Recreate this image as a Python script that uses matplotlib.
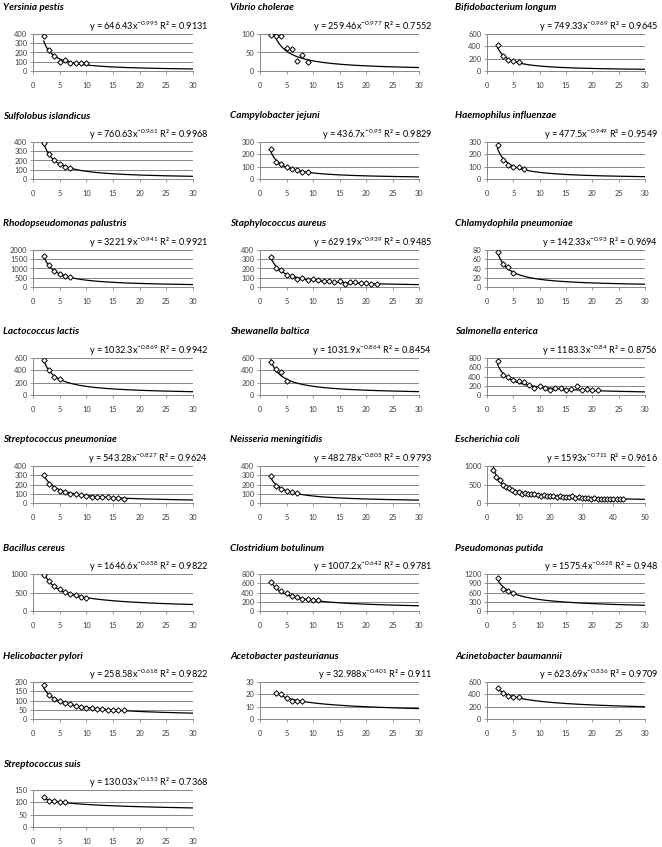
import matplotlib
matplotlib.use("Agg")
import matplotlib.pyplot as plt
import numpy as np

plt.rcParams['font.family'] = ['Lato', 'DejaVu Sans']
plt.rcParams['mathtext.fontset'] = 'custom'
plt.rcParams['mathtext.rm'] = 'Lato'
plt.rcParams['mathtext.it'] = 'Lato:italic'

species = ['Yersinia pestis', 'Vibrio cholerae', 'Bifidobacterium longum',
           'Sulfolobus islandicus', 'Campylobacter jejuni', 'Haemophilus influenzae',
           'Rhodopseudomonas palustris', 'Staphylococcus aureus', 'Chlamydophila pneumoniae',
           'Lactococcus lactis', 'Shewanella baltica', 'Salmonella enterica',
           'Streptococcus pneumoniae', 'Neisseria meningitidis', 'Escherichia coli',
           'Bacillus cereus', 'Clostridium botulinum', 'Pseudomonas putida',
           'Helicobacter pylori', 'Acetobacter pasteurianus', 'Acinetobacter baumannii',
           'Streptococcus suis']

coef = ['646.43', '259.46', '749.33', '760.63', '436.7', '477.5', '3221.9', '629.19',
        '142.33', '1032.3', '1031.9', '1183.3', '543.28', '482.78', '1593', '1646.6',
        '1007.2', '1575.4', '258.58', '32.988', '623.69', '130.03']
expo = ['-0.995', '-0.977', '-0.969', '-0.961', '-0.95', '-0.949', '-0.941', '-0.939',
        '-0.93', '-0.869', '-0.864', '-0.84', '-0.827', '-0.805', '-0.711', '-0.658',
        '-0.642', '-0.628', '-0.618', '-0.401', '-0.336', '-0.153']
r2 = ['0.9131', '0.7552', '0.9645', '0.9968', '0.9829', '0.9549', '0.9921', '0.9485',
      '0.9694', '0.9942', '0.8454', '0.8756', '0.9624', '0.9793', '0.9616', '0.9822',
      '0.9781', '0.948', '0.9822', '0.911', '0.9709', '0.7368']

x_start = [2, 2, 2, 2, 2, 2, 2, 2, 2, 2, 2, 2, 2, 2, 2, 2, 2, 2, 2, 3, 2, 2]

counts = [
    [380, 225, 160, 95, 115, 90, 85, 85, 85],
    [97, 94, 95, 62, 60, 28, 42, 23],
    [420, 240, 185, 165, 150],
    [385, 265, 205, 160, 135, 120],
    [240, 135, 125, 95, 80, 70, 60, 58],
    [275, 155, 115, 100, 95, 85],
    [1700, 1200, 850, 680, 600, 540],
    [320, 210, 180, 135, 120, 90, 95, 80, 85, 75, 70, 70, 55, 60, 35, 55, 50, 40, 40, 35, 30],
    [75, 50, 43, 30],
    [570, 400, 300, 260],
    [540, 420, 380, 225],
    [730, 440, 380, 330, 300, 280, 220, 150, 190, 150, 110, 150, 150, 110, 140, 200, 100, 130, 100, 100],
    [300, 210, 160, 130, 120, 100, 100, 90, 80, 70, 70, 60, 60, 55, 55, 45],
    [290, 185, 150, 130, 115, 110],
    [900, 700, 620, 500, 420, 400, 350, 300, 300, 250, 260, 240, 250, 230, 210, 200, 220,
     190, 200, 180, 170, 190, 160, 170, 150, 180, 140, 150, 130, 140, 130, 120, 140, 120,
     110, 120, 100, 110, 100, 110, 100, 100],
    [980, 820, 680, 600, 520, 450, 420, 380, 360],
    [620, 520, 440, 380, 320, 300, 270, 250, 240, 230],
    [1080, 700, 640, 580],
    [185, 130, 110, 95, 85, 80, 70, 65, 62, 58, 55, 53, 50, 50, 48, 47],
    [21, 20, 17, 15, 15, 15],
    [500, 420, 380, 360, 350],
    [120, 105, 105, 103, 103],
]

y_max = [400, 100, 600, 400, 300, 300, 2000, 400, 80, 600, 600, 800, 400, 400, 1000,
         1000, 800, 1200, 200, 30, 600, 150]
y_step = [100, 50, 200, 100, 100, 100, 500, 100, 20, 200, 200, 200, 100, 100, 500,
          500, 200, 300, 50, 10, 200, 50]
x_max = [30] * 14 + [50] + [30] * 7

W, H = 662, 847
fig = plt.figure(figsize=(W / 100, H / 100), dpi=100)
fig.patch.set_facecolor('white')

col_left = [33, 260, 487]
col_right = [193, 419, 645]
title_x = [3, 230, 455]
eq_right = [208, 432, 658]
pitch = 108
grid_col = '#878787'
txt_col = '#404040'

for i, name in enumerate(species):
    r, c = divmod(i, 3)
    top = r * pitch
    pt, pb = top + 34, top + 71
    ax = fig.add_axes([col_left[c] / W, 1 - pb / H, (col_right[c] - col_left[c]) / W, (pb - pt) / H])

    y = np.array(counts[i], dtype=float)
    x = np.arange(x_start[i], x_start[i] + len(y))
    a, b = float(coef[i]), float(expo[i])
    xf = np.linspace(x[0], x_max[i], 300)
    ax.plot(xf, a * xf ** b, color='black', lw=0.9, zorder=3)
    ax.plot(x, y, ls='none', marker='D', ms=2.8, mfc='white', mec='black', mew=0.7, zorder=4)

    ax.set_xlim(0, x_max[i])
    ax.set_ylim(0, y_max[i])
    ax.set_xticks(np.arange(0, x_max[i] + 1, 10 if x_max[i] == 50 else 5))
    ax.set_yticks(np.arange(0, y_max[i] + 1, y_step[i]))
    ax.yaxis.grid(True, color=grid_col, lw=0.7)
    ax.set_axisbelow(True)
    for s in ['top', 'right']:
        ax.spines[s].set_visible(False)
    for s in ['left', 'bottom']:
        ax.spines[s].set_color(grid_col)
        ax.spines[s].set_linewidth(0.7)
    ax.tick_params(axis='both', labelsize=5.4, colors=grid_col, labelcolor=txt_col,
                   length=2, width=0.6, pad=2)
    ax.tick_params(axis='x', pad=6)
    ax.patch.set_alpha(0)

    fig.text(title_x[c] / W, 1 - (top + 8) / H, name, fontsize=7.2, fontweight='bold',
             fontstyle='italic', ha='left', va='center', color='black')
    eq = 'y = ' + coef[i] + 'x$^{' + expo[i] + '}$ R\u00b2 = ' + r2[i]
    fig.text(eq_right[c] / W, 1 - (top + 27) / H, eq, fontsize=6.6, ha='right',
             va='center', color='black')

fig.savefig('out.png', dpi=100)
